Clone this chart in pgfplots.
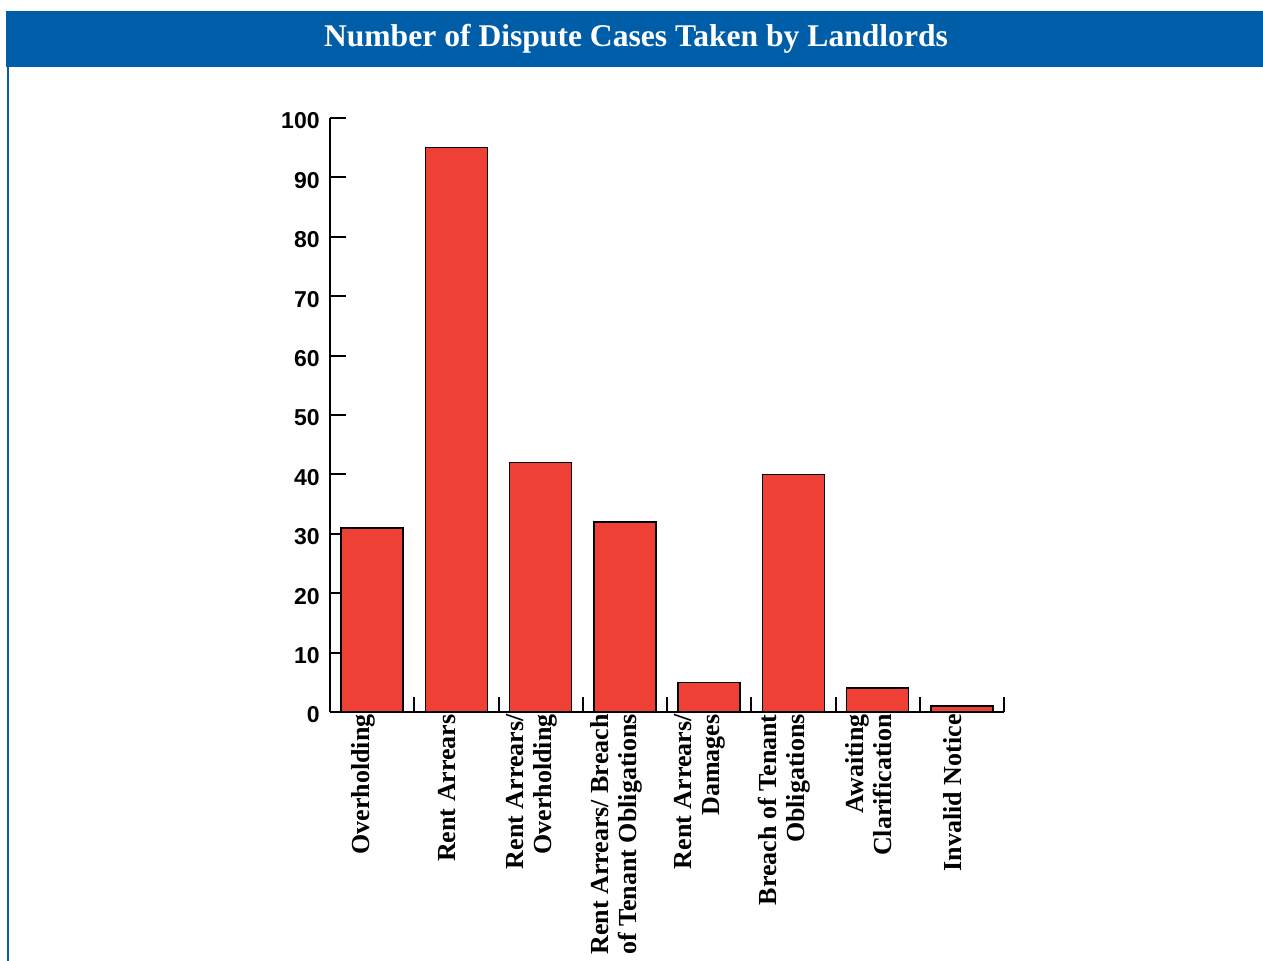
\documentclass[border=0pt]{standalone}
\usepackage{fontspec}
\setmainfont{Liberation Serif}
\newfontfamily\numfont{Liberation Sans}
\usepackage{pgfplots}
\pgfplotsset{compat=1.18}
\definecolor{banner}{RGB}{0,93,168}
\definecolor{barred}{RGB}{238,64,53}
\begin{document}
\begin{tikzpicture}
\useasboundingbox (0,0) rectangle (631.5pt,-480.5pt);
\fill[banner] (3pt,-5.5pt) rectangle (631.5pt,-33.5pt);
\node[text=white,font=\fontsize{15.8}{18}\selectfont\bfseries] at (318pt,-19.5pt) {Number of Dispute Cases Taken by Landlords};
\draw[banner, line width=1pt] (4pt,-33.5pt) -- (4pt,-480.5pt);
\begin{axis}[
  at={(165pt,-356pt)}, anchor=south west,
  scale only axis, width=337pt, height=297pt,
  xmin=-0.5, xmax=7.5, ymin=0, ymax=100,
  axis x line=bottom, axis y line=left,
  axis line style={-, line width=1pt, black},
  ytick={0,10,...,100},
  xtick={0,...,7},
  xticklabels={Overholding, Rent Arrears, {Rent Arrears/\\Overholding}, {Rent Arrears/ Breach\\of Tenant Obligations}, {Rent Arrears/\\Damages}, {Breach of Tenant\\Obligations}, {Awaiting\\Clarification}, Invalid Notice},
  minor xtick={0.5,1.5,...,7.5},
  tick align=inside,
  major tick length=8pt, minor tick length=7.5pt,
  tick style={black, line width=1pt},
  major x tick style={draw=none},
  /pgf/number format/assume math mode=true,
  yticklabel style={font=\numfont\bfseries\fontsize{11.5}{12}\selectfont, inner sep=1pt, xshift=-4pt, yshift=-1.5pt},
  xticklabel style={xshift=-4.5pt, rotate=90, anchor=east, align=right, inner sep=1pt, font=\bfseries\fontsize{13}{14}\selectfont},
  clip=false,
]
\addplot[ybar, bar width=31pt, fill=barred, draw=black, line width=0.8pt] coordinates {
  (0,31) (1,95) (2,42) (3,32) (4,5) (5,40) (6,4) (7,1)
};
\end{axis}
\end{tikzpicture}
\end{document}
